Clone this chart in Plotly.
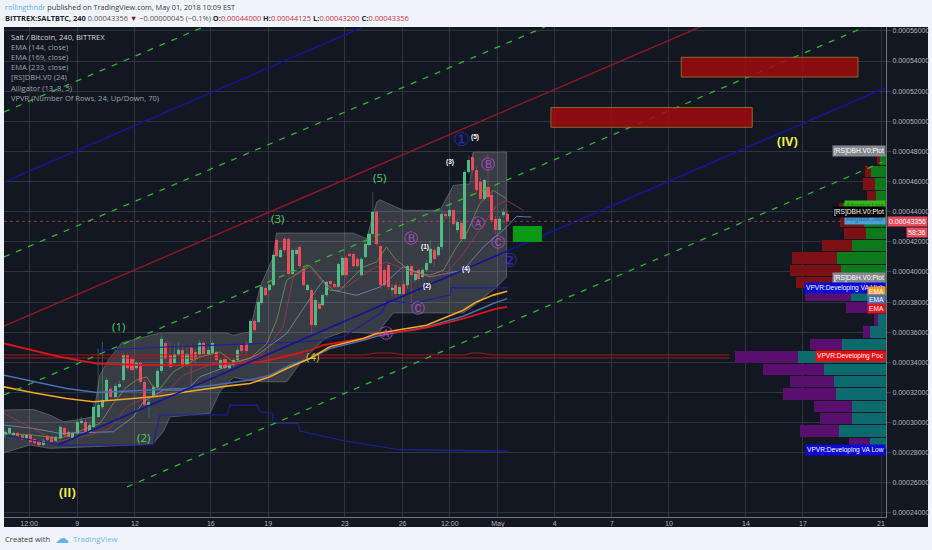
import numpy as np
import plotly.graph_objects as go

# ---- price data, in units of 0.00001 BTC ----
bar_open = [29.10,29.28,29.17,29.32,29.17,28.95,29.17,28.88,28.77,28.51,29.10,29.06,28.79,28.95,29.61,29.39,28.95,29.28,29.99,30.05,29.39,29.72,30.38,31.00,31.49,32.26,31.71,32.36,32.82,34.47,34.25,33.59,33.97,32.71,31.16,31.71,32.33,33.43,35.25,34.47,33.97,34.47,34.80,33.81,34.98,34.69,34.47,35.29,34.54,34.63,34.69,33.59,34.19,33.59,33.81,34.14,35.14,35.25,35.25,36.75,36.68,
37.94,38.94,38.78,39.11,42.10,40.99,42.21,42.21,39.89,41.21,41.65,40.22,38.83,38.78,36.46,37.90,37.79,38.45,39.40,39.18,39.00,39.78,40.95,41.21,41.17,40.88,39.78,40.99,41.77,42.54,43.98,41.70,40.11,40.44,38.78,39.11,38.56,39.18,39.11,40.37,39.44,40.11,39.67,40.11,40.59,41.48,41.10,41.65,43.87,43.69,44.09,42.76,43.25,42.21,46.63,47.62,46.74,45.96,44.86,45.63,45.08,43.53,42.80,43.75,43.87]
bar_close = [29.39,29.61,29.32,29.10,28.88,29.17,28.73,28.62,28.48,28.79,28.84,28.73,29.06,29.72,29.17,29.06,29.32,30.05,30.12,29.39,29.83,31.05,31.16,31.49,32.82,31.71,32.42,32.55,34.47,33.59,33.48,33.97,32.71,31.16,31.38,32.33,33.43,35.58,34.25,33.70,34.54,34.85,33.81,34.58,34.14,34.25,35.29,34.58,34.80,35.29,34.14,34.14,33.59,33.92,34.14,34.85,34.76,34.76,36.75,36.13,38.01,
39.00,38.45,39.11,41.10,41.03,41.43,41.43,39.89,41.43,41.43,40.37,39.11,39.11,36.46,38.12,37.57,38.45,39.33,39.18,39.00,40.51,40.95,39.78,41.10,40.37,40.37,40.88,41.88,42.54,43.98,41.88,39.11,39.11,39.00,38.96,38.56,39.00,38.56,40.37,39.78,39.89,39.56,40.15,40.59,41.54,40.88,41.65,43.87,43.69,44.09,43.20,43.31,42.21,46.63,47.40,46.74,45.41,44.86,46.07,44.97,43.42,42.80,43.53,43.98,43.36]
bar_high = [29.5,29.7,29.4,29.4,29.25,29.25,29.2,28.95,28.85,28.9,29.2,29.1,29.15,29.85,29.7,29.5,29.4,30.1,30.4,30.2,30.0,31.3,34.9,35.36,33.0,32.5,32.6,32.8,34.6,34.6,34.4,34.1,34.1,32.9,31.5,32.5,33.6,35.8,35.4,35.3,35.2,35.3,35.2,35.0,35.2,34.9,35.5,35.4,35.0,35.4,34.8,34.3,34.4,34.0,34.3,35.0,35.3,35.4,36.85,36.85,38.1,
39.1,39.1,39.2,41.2,42.2,41.6,42.3,42.3,41.6,41.6,41.8,40.4,39.2,38.9,38.3,38.0,38.6,39.4,39.5,39.3,40.6,41.1,41.1,41.3,41.3,41.0,41.0,42.0,42.6,45.3,44.1,41.8,40.3,40.6,39.2,39.4,39.2,39.4,40.5,40.5,40.0,40.2,40.3,40.8,42.1,41.7,41.9,44.1,44.0,44.6,44.2,43.5,43.4,46.8,47.7,47.9,47.0,46.3,46.2,47.84,45.3,43.7,43.7,44.2,44.125]
bar_low = [29.0,29.2,29.1,29.0,28.8,28.9,28.65,28.55,28.4,28.45,28.8,28.65,28.7,28.9,29.1,29.0,28.9,29.2,29.9,29.3,29.3,29.6,30.3,30.9,31.4,31.6,31.6,32.3,32.7,33.4,33.4,33.5,32.6,31.0,30.27,31.6,32.2,33.3,34.1,33.6,33.9,34.4,33.7,33.7,32.48,33.9,34.3,34.5,34.4,34.5,34.0,33.5,33.5,33.5,33.7,34.0,34.6,34.6,35.2,36.0,36.6,
37.8,38.4,38.7,39.0,41.0,40.9,41.3,39.7,39.8,41.1,40.2,39.0,38.7,35.9,36.3,37.5,37.7,38.3,39.1,38.9,38.9,39.7,39.6,41.0,40.3,40.3,39.7,40.9,41.7,42.4,41.7,38.9,39.0,38.8,38.4,38.34,38.3,38.4,38.9,37.68,39.3,39.4,39.6,40.0,40.5,40.3,41.0,41.5,43.5,43.5,43.1,42.6,42.1,42.1,46.5,46.6,45.2,44.7,44.7,44.7,43.3,42.5,42.7,43.6,43.2]
first_bar_days = np.linspace(-3.74, 9.48, 61)
second_bar_days = np.linspace(9.62, 22.42, 65)
bar_day = np.concatenate([first_bar_days, second_bar_days])

# cloud of [RS]DBH
cloud_up_day = [-3.80,-2.27,-1.41,-0.71,-0.10,0.85,1.20,1.63,2.33,4.33,7.80,8.15,9.01,9.54,10.23,10.40,14.40,15.10,15.62,15.79,17.00,18.92,19.61,20.48,20.65,22.39]
cloud_up = [30.83,30.87,30.50,30.05,30.16,30.38,33.15,34.14,35.29,35.95,35.95,35.80,36.02,39.00,40.99,42.58,42.58,42.21,44.64,44.79,44.09,44.09,45.74,45.85,47.95,47.95]
cloud_lo_day = [-3.80,-2.45,-1.41,3.11,3.98,4.50,4.85,6.93,7.45,8.15,9.54,10.93,11.62,12.92,13.88,15.62,16.31,16.48,20.13,20.83,21.87,22.39]
cloud_lo = [28.00,28.51,28.29,28.51,28.62,29.39,30.38,30.61,32.04,32.99,32.71,32.71,33.92,35.58,36.02,35.91,37.01,37.28,37.28,37.90,39.00,39.67]

# VPVR value-area developing lines
va_low_day = [-3.80,-0.89,3.28,3.96,4.33,7.82,7.97,9.38,9.54,10.21,10.21,11.52,11.62,13.97,15.27,16.83,22.46]
va_low = [29.17,28.51,28.51,28.51,30.50,30.50,31.16,31.16,30.72,30.61,29.94,29.94,29.43,28.78,28.51,28.20,28.10]
va_high_day = [1.2,4.33,11.62,12.92,13.96,15.27,15.89,16.2,17.46,19.44,19.49,22.46]
va_high = [34.8,35.0,35.35,35.48,35.75,36.8,37.3,38.1,37.9,38.47,38.94,38.94]
poc_day = [-3.80,15.0,15.6,16.4,17.0,20.2,20.6,21.0,21.6,34.0]
poc_high = [34.49,34.49,34.62,34.62,34.49,34.49,34.62,34.62,34.49,34.49]
poc_low = [34.29,34.29,34.29,34.29,34.29,34.29,34.29,34.29,34.29,34.29]

# EMAs
ema_red_day = [-3.80,-2.27,-0.88,0.33,1.03,3.46,6.41,9.54,10.23,12.14,12.83,14.92,15.61,17.52,18.39,20.13,21.87,22.42]
ema_red = [35.25,34.80,34.36,34.08,33.92,33.81,33.81,34.03,34.19,34.80,35.14,35.58,35.87,36.13,36.35,36.90,37.57,37.68]
ema_orange_day = [-3.80,-2.27,-0.54,0.85,2.94,4.33,5.72,7.80,9.02,10.06,10.93,12.14,13.18,14.92,15.61,16.65,18.22,19.26,20.13,20.82,21.69,22.42]
ema_orange = [32.37,31.98,31.60,31.38,31.60,31.76,32.04,32.42,32.59,33.04,33.59,34.25,35.03,35.58,35.91,36.13,36.46,37.01,37.46,38.01,38.46,38.72]
ema_blue_day = [-3.80,-2.27,-0.54,1.03,2.94,5.54,7.11,9.02,10.06,11.10,12.14,13.18,14.92,15.61,18.22,20.13,21.69,22.42]
ema_blue = [33.15,32.75,32.26,32.00,32.11,32.26,32.48,32.82,33.15,33.81,34.25,34.91,35.47,35.73,36.35,37.06,37.90,38.23]

# Alligator
lips_day = [-3.80,-2.27,-0.88,1.20,1.90,2.59,3.11,3.63,3.98,4.33,5.02,6.41,7.45,8.15,9.02,9.89,10.41,10.92,12.14,12.66,13.18,13.70,14.92,15.61,16.13,16.65,17.35,18.39,19.09,19.78,20.30,20.99,21.69,22.39]
lips = [29.28,29.17,28.95,29.94,31.27,32.37,32.82,33.04,32.37,32.26,33.37,34.36,34.69,34.03,34.25,35.25,36.79,39.44,40.44,39.67,38.78,38.78,40.33,40.66,41.65,40.77,40.11,39.78,40.11,41.65,42.54,44.53,45.41,44.86]
teeth_day = [-3.80,-2.45,-1.06,0.68,1.72,2.59,3.29,4.67,5.54,7.11,8.15,9.54,10.75,11.27,12.14,13.01,14.05,15.27,16.13,17.18,18.39,19.26,20.13,20.99,21.87,22.39,23.26]
teeth = [30.60,29.72,28.73,29.17,29.61,31.05,31.49,32.04,33.15,33.92,33.81,34.36,36.35,39.67,40.33,39.00,39.00,40.11,40.66,40.11,39.67,39.89,41.21,42.76,44.42,44.75,44.09]
jaw_day = [-3.80,-2.27,-0.88,1.90,2.94,3.46,4.50,5.72,6.41,7.98,9.37,10.93,11.97,12.83,13.35,14.57,15.79,17.00,18.39,20.13,21.17,22.39,22.91,23.69]
jaw = [29.83,29.61,29.28,29.39,30.38,31.38,32.15,32.15,33.04,33.81,34.47,35.91,37.90,39.44,38.78,38.45,39.00,40.33,39.67,40.11,41.65,42.98,43.69,43.64]

# drawn channel: (day0, price0, day1, price1)
red_channel = [-3.80, 36.41, 32.73, 56.40]
blue_center = [-0.99, 28.51, 42.10, 52.21]
blue_upper = [-3.80, 45.97, 14.90, 56.26]
green_dashed = [[-3.80, 50.62, 6.46, 56.19], [-3.80, 40.99, 24.39, 56.26],
                [-3.80, 31.83, 41.06, 56.26], [2.61, 25.73, 42.00, 47.30]]

# target boxes: day0, day1, price0, price1
red_boxes = [[24.70, 35.19, 49.60, 50.92], [31.49, 40.70, 52.94, 54.25]]
green_box = [22.72, 24.23, 41.99, 43.05]

# volume profile
vp_price = [47.48 - 0.82 * k for k in range(24)]
vp_up = [19,45,34,29,129,67,60,102,147,135,137,104,52,24,49,132,264,185,155,149,102,102,142,47]
vp_down = [8,17,35,28,13,70,65,90,135,152,132,138,67,11,21,97,188,185,132,160,113,95,115,65]
vp_up_color = ["#0c7a1c"] * 11 + ["#0d6a6c"] * 13
vp_down_color = ["#7d1014"] * 11 + ["#580f6e"] * 13

last_price = 43.356
y_ticks = [24,26,28,30,32,34,36,38,40,42,44,46,48,50,52,54,56]
x_tick_days = [-2.49,0.02,3.02,6.98,9.97,13.96,16.97,19.43,21.93,24.9,27.88,30.85,34.86,37.83,41.9]
x_tick_text = ["12:00","9","12","16","19","23","26","12:00","May","4","7","10","14","17","21"]

wave_green = [(2.19,36.35,"(1)"),(3.49,28.98,"(2)"),(10.47,43.52,"(3)"),(15.79,46.24,"(5)")]
wave_olive = [(12.30,34.36,"(4)")]
wave_yellow = [(-0.47,25.39,"(II)"),(37.05,48.69,"(IV)")]
wave_white = [(20.74,48.96,"(5)"),(19.44,47.30,"(3)"),(18.13,41.66,"(1)"),(18.24,39.07,"(2)"),(20.27,40.20,"(4)")]
wave_purple = [(20.90,43.25,"Ⓐ"),(21.42,47.17,"Ⓑ"),(21.94,41.99,"Ⓒ"),(17.40,42.25,"Ⓑ"),(16.10,35.95,"Ⓐ"),(17.77,37.61,"Ⓒ")]
wave_blue = [(20.06,48.83,"①"),(22.56,40.79,"②")]

legend_lines = ["EMA (144, close)","EMA (169, close)","EMA (233, close)","[RS]DBH.V0 (24)","Alligator (13, 8, 5)","VPVR (Number Of Rows, 24, Up/Down, 70)"]

P = 1e-5
def scaled(v):
    return (np.array(v, dtype=float) * P).tolist()

L, R, T, B = 4, 886, 27, 517
def fx(x): return (x - L) / (R - L)
def fy(y): return (B - y) / (B - T)

BG = "#131722"
FONT = "Open Sans"
AXF = "Liberation Sans"
UP, DOWN = "#53b987", "#eb4d5c"
X_RANGE = [-3.80, 42.16]

fig = go.Figure()

def line(xs, ys, color, width=1, dash="solid", opacity=1.0):
    fig.add_trace(go.Scatter(x=xs, y=scaled(ys), mode="lines", hoverinfo="skip", showlegend=False, xaxis="x4",
                             opacity=opacity, line=dict(color=color, width=width, dash=dash)))

def seg(s, color, width=1, dash="solid"):
    line([s[0], s[2]], [s[1], s[3]], color, width, dash)

# cloud sits on the base axes, below everything else
fig.add_trace(go.Scatter(x=cloud_up_day + cloud_lo_day[::-1], y=scaled(cloud_up + cloud_lo[::-1]),
                         mode="lines", fill="toself", fillcolor="rgba(255,255,255,0.16)",
                         line=dict(color="#6a6e78", width=0.7), hoverinfo="skip", showlegend=False))

# candles: wicks then bodies on an overlay above the cloud
o = np.array(bar_open); c = np.array(bar_close)
fig.add_trace(go.Candlestick(
    x=bar_day, open=scaled(bar_open), high=scaled(bar_high), low=scaled(bar_low), close=scaled(bar_close),
    xaxis="x3",
    increasing=dict(line=dict(color="rgba(83,185,135,0.65)", width=0.6), fillcolor="rgba(0,0,0,0)"),
    decreasing=dict(line=dict(color="rgba(235,77,92,0.65)", width=0.6), fillcolor="rgba(0,0,0,0)"),
    whiskerwidth=0, hoverinfo="skip", showlegend=False))
fig.add_trace(go.Bar(x=bar_day, y=(np.abs(c - o) * P).tolist(), base=(np.minimum(o, c) * P).tolist(), width=0.16, xaxis="x3",
                     marker=dict(color=[UP if b >= a else DOWN for a, b in zip(bar_open, bar_close)], line=dict(width=0)),
                     hoverinfo="skip", showlegend=False))

line(poc_day, poc_high, "#b01a1a", 0.9)
line(poc_day, poc_low, "#b01a1a", 0.9)
line(va_low_day, va_low, "#1c1f9e", 1.1)
line(va_high_day, va_high, "#1c1f9e", 1.1)
line(jaw_day, jaw, "#7d9cc4", 0.7)
line(teeth_day, teeth, "#a83a55", 0.7)
line(lips_day, lips, "#7f9f50", 0.7)
line(ema_blue_day, ema_blue, "#4a6fb5", 1.5)
line(ema_red_day, ema_red, "#d8161c", 1.8)
line(ema_orange_day, ema_orange, "#f5a623", 1.6)

seg(red_channel, "#8f1622", 1.4)
seg(blue_center, "#14149a", 1.6)
seg(blue_upper, "#14149a", 1.4)
for s in green_dashed:
    seg(s, "#2fb52f", 1.3, "6px,7px")
line(X_RANGE, [last_price, last_price], "#eb4d5c", 0.8, "dot", opacity=0.7)

# volume profile on its own hidden, reversed value axis
fig.add_trace(go.Bar(y=scaled(vp_price), x=vp_up, orientation="h", width=0.76 * P, xaxis="x2",
                     marker=dict(color=vp_up_color, line=dict(width=0)), hoverinfo="skip", showlegend=False))
fig.add_trace(go.Bar(y=scaled(vp_price), x=vp_down, orientation="h", width=0.76 * P, xaxis="x2",
                     marker=dict(color=vp_down_color, line=dict(width=0)), hoverinfo="skip", showlegend=False))

shapes = [dict(type="rect", xref="paper", yref="paper", x0=fx(L), x1=fx(928), y0=fy(527), y1=fy(T),
               fillcolor=BG, line=dict(width=0), layer="below")]
for b in red_boxes:
    shapes.append(dict(type="rect", xref="x", yref="y", x0=b[0], x1=b[1], y0=b[2] * P, y1=b[3] * P,
                       fillcolor="rgba(160,10,14,0.85)", line=dict(color="#96802a", width=0.8), layer="above"))
shapes.append(dict(type="rect", xref="x", yref="y", x0=green_box[0], x1=green_box[1], y0=green_box[2] * P, y1=green_box[3] * P,
                   fillcolor="#0a9a14", line=dict(width=0), layer="above"))

ann = []
def data_text(items, size, color, bold=False, family=FONT):
    for d, p, t in items:
        ann.append(dict(x=d, y=p * P, xref="x", yref="y", text=f"<b>{t}</b>" if bold else t, showarrow=False,
                        font=dict(size=size, color=color, family=family)))

data_text(wave_green, 11.5, "#45d163")
data_text(wave_olive, 11.5, "#b8c83a")
data_text(wave_yellow, 12.5, "#f0ee4a", bold=True)
data_text(wave_white, 6.5, "#ffffff", bold=True, family=AXF)
data_text(wave_purple, 14, "#b04fc4", family="DejaVu Sans")
data_text(wave_blue, 19, "#2a2ab0", family="DejaVu Sans")

def page_text(x, y, t, size, color, family=FONT, anchor="left"):
    ann.append(dict(x=fx(x), y=fy(y), xref="paper", yref="paper", xanchor=anchor, yanchor="middle", text=t,
                    showarrow=False, font=dict(size=size, color=color, family=family)))

page_text(3, 7, '<span style="color:#5db4e8">rollingthndr</span> published on TradingView.com, May 01, 2018 10:09 EST', 7.3, "#3a3d45")
page_text(3, 17.5, '<b>BITTREX:SALTBTC, 240</b> <span style="color:#555">0.00043356</span> <span style="color:#8c0f10">▼</span> '
          '<span style="color:#555">−0.00000045 (−0.1%)</span> <b>O:</b><span style="color:#c8323c">0.00044000</span> '
          '<b>H:</b><span style="color:#c8323c">0.00044125</span> <b>L:</b><span style="color:#c8323c">0.00043200</span> '
          '<b>C:</b><span style="color:#c8323c">0.00043356</span>', 7.45, "#22252c")
page_text(9, 36.7, "Salt / Bitcoin, 240, BITTREX", 7.6, "#d3d6dc")
for k, t in enumerate(legend_lines):
    page_text(9, 46.7 + 10.2 * k, t, 7.6, "#9aa0ab")
page_text(3, 539, "Created with", 7.6, "#3a3d45")
page_text(53, 538, "☁", 14, "#5db4e8", "DejaVu Sans")
page_text(71, 539, "TradingView", 7.8, "#6dbbe8")

def tag(price, t, bg, fg="#ffffff"):
    ann.append(dict(x=fx(R), y=price * P, xref="paper", yref="y", xanchor="right", yanchor="middle", text=t,
                    showarrow=False, bgcolor=bg, borderpad=1, font=dict(size=6.6, color=fg, family=AXF)))

tag(44.38, "Alligator:Lips", "#37b51e", "#1c7a14")
tag(43.52, "Alligator:Jaw", "#4a9fd6", "#2a6f9e")
tag(48.0, "[RS]DBH.V0:Plot", "#85888e")
tag(43.95, "[RS]DBH.V0:Plot", "#050505")
tag(39.63, "[RS]DBH.V0:Plot", "#85888e")
tag(38.9, "VPVR:Developing VA High", "#0808d8")
tag(38.67, "EMA", "#f39a1b")
tag(38.14, "EMA", "#4a6fb5")
tag(37.6, "EMA", "#e0141c")
tag(34.39, "VPVR:Developing Poc", "#e80e10")
tag(28.2, "VPVR:Developing VA Low", "#0808d8")

ann.append(dict(x=fx(928), y=last_price * P, xref="paper", yref="y", xanchor="right", yanchor="middle",
                text="0.00043356", showarrow=False, bgcolor="#eb4d5c", borderpad=1,
                font=dict(size=7, color="#ffffff", family=AXF)))
ann.append(dict(x=fx(928), y=fy(232.5), xref="paper", yref="paper", xanchor="right", yanchor="middle",
                text="58:36", showarrow=False, bgcolor="#eb4d5c", borderpad=1,
                font=dict(size=7, color="#ffffff", family=AXF)))

fig.update_layout(
    width=932, height=550, autosize=False,
    margin=dict(l=L, r=932 - R, t=T, b=550 - B, pad=0),
    paper_bgcolor="#f0f3fa", plot_bgcolor=BG,
    barmode="stack", showlegend=False, shapes=shapes, annotations=ann,
    xaxis=dict(range=X_RANGE, tickmode="array", tickvals=x_tick_days, ticktext=x_tick_text,
               showgrid=True, gridcolor="#2f333e", gridwidth=1, zeroline=False, rangeslider=dict(visible=False),
               showline=True, linecolor="#70747e", linewidth=1, ticklen=0, ticks="",
               tickfont=dict(size=7, color="#b2b5be", family=AXF)),
    xaxis2=dict(overlaying="x", range=[2646, 0], visible=False),
    xaxis3=dict(overlaying="x", range=X_RANGE, visible=False, rangeslider=dict(visible=False)),
    xaxis4=dict(overlaying="x", range=X_RANGE, visible=False),
    yaxis=dict(range=[23.73 * P, 56.26 * P], side="right", tickmode="array", tickvals=scaled(y_ticks),
               tickformat=".8f", showgrid=True, gridcolor="#2f333e", gridwidth=1, zeroline=False,
               showline=True, linecolor="#70747e", linewidth=1, ticks="outside", ticklen=4, tickcolor="#3a3e48",
               tickfont=dict(size=7, color="#b2b5be", family=AXF)),
    font=dict(family=FONT),
)

fig.write_html("out.html", config={"displayModeBar": False},
               post_script="document.body.style.margin='0';document.documentElement.style.background='#f0f3fa';")
